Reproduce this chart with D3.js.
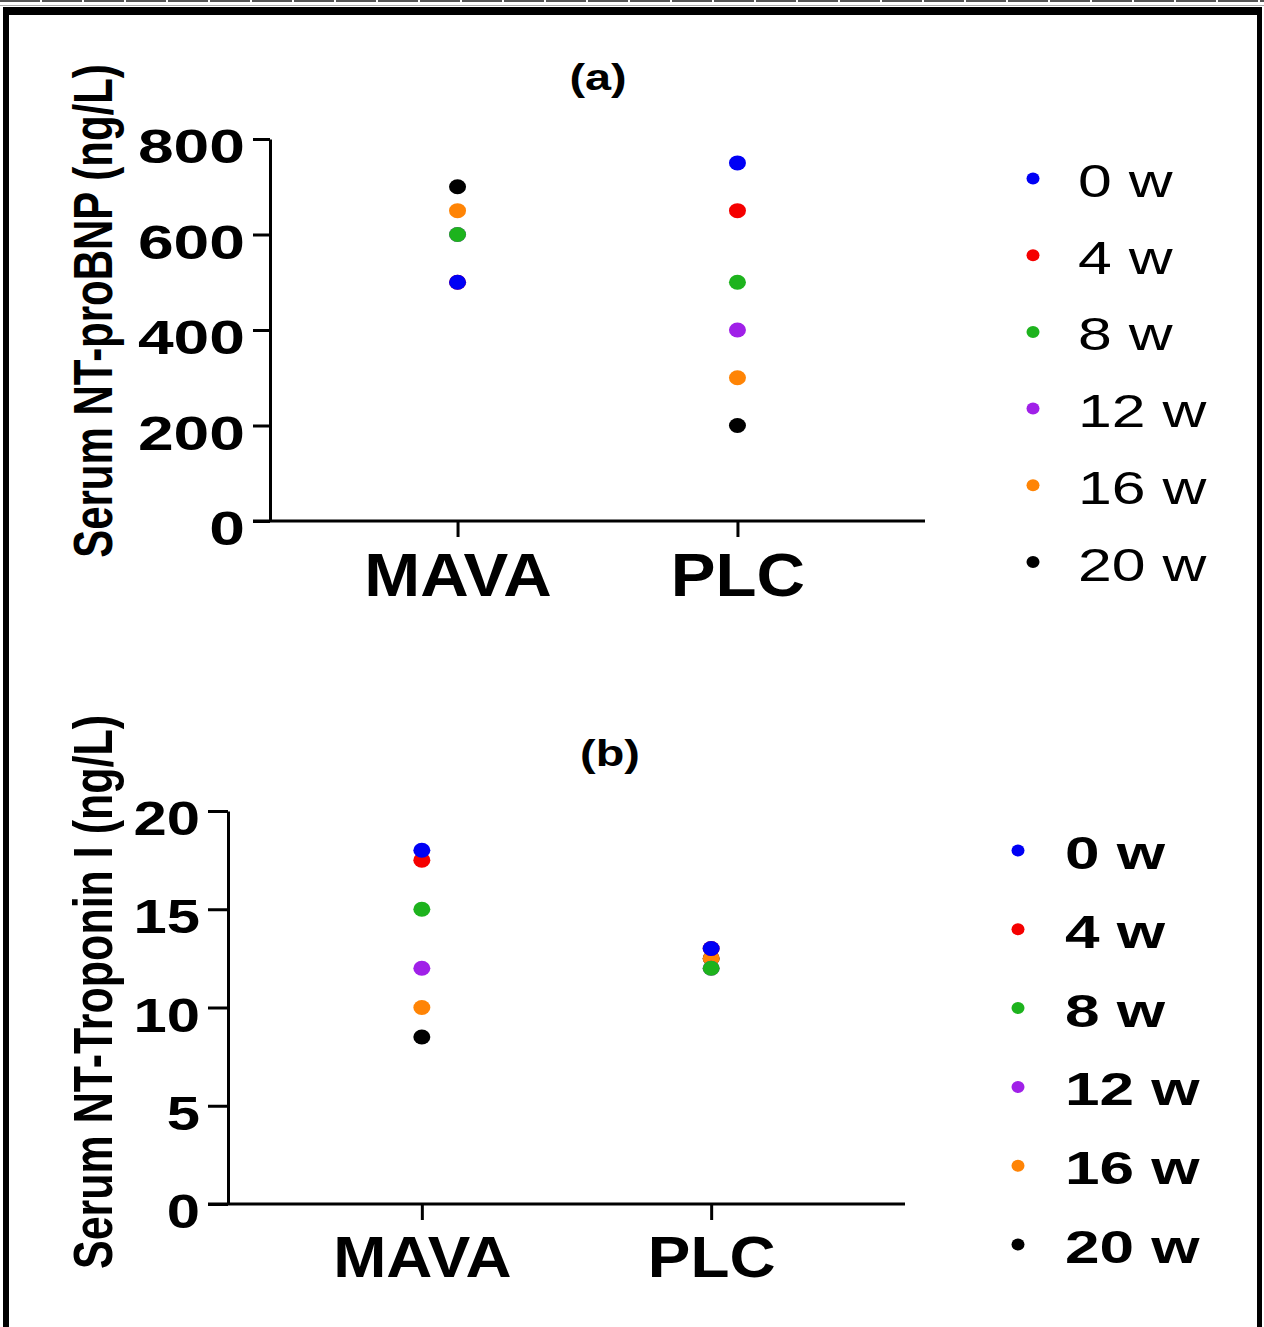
<!DOCTYPE html>
<html>
<head>
<meta charset="utf-8">
<script src="https://cdn.jsdelivr.net/npm/d3@7"></script>
<style>
  body { margin: 0; background: #fff; }
  svg { display: block; font-family: "Liberation Sans", Arial, sans-serif; }
</style>
</head>
<body>
<svg width="1264" height="1327"></svg>
<script>
// data
const groups = ["MAVA", "PLC"];
const weeks = ["0 w", "4 w", "8 w", "12 w", "16 w", "20 w"];
const bnpMAVA = [500, 500, 600, 600, 650, 700];
const bnpPLC = [750, 650, 500, 400, 300, 200];
const tropMAVA = [18, 17.5, 15, 12, 10, 8.5];
const tropPLC = [13, 13, 12, 12, 12.5, 12.5];
const bnpTicks = [0, 200, 400, 600, 800];
const tropTicks = [0, 5, 10, 15, 20];

const colors = ["#0000f5", "#f50000", "#1db31d", "#a020e8", "#ff8405", "#000000"];

let svg = d3.select("svg");

// frame round the figure
svg.append("line").attr("x1", 0).attr("x2", 1264).attr("y1", 1).attr("y2", 1)
    .attr("stroke", "#555").attr("stroke-width", 2).attr("stroke-dasharray", "40,2");
svg.append("line").attr("x1", 0).attr("x2", 1264).attr("y1", 5.5).attr("y2", 5.5)
    .attr("stroke", "#aaa").attr("stroke-width", 1);
svg.append("rect").attr("x", 3).attr("y", 7).attr("width", 1259).attr("height", 8).attr("fill", "#000");
svg.append("rect").attr("x", 3).attr("y", 7).attr("width", 6).attr("height", 1320).attr("fill", "#000");
svg.append("rect").attr("x", 1257).attr("y", 7).attr("width", 5).attr("height", 1320).attr("fill", "#000");

function drawPanel(p) {
    let yScale = d3.scaleLinear().domain(p.domain).range([p.y0, p.y1]);
    let xScale = d3.scalePoint().domain(groups).range([p.x0, p.x1]).padding(0.67);

    // y axis
    let ya = svg.append("g")
        .attr("transform", "translate(" + p.x0 + ",0)")
        .call(d3.axisLeft(yScale).tickValues(p.ticks).tickSize(p.tickY).tickSizeOuter(0).tickPadding(0));
    ya.select(".domain").attr("stroke-width", 3);
    ya.selectAll(".tick line").attr("stroke-width", 3);
    ya.selectAll(".tick text")
        .attr("x", 0).attr("dy", "0.48em")
        .attr("font-size", 49).attr("font-weight", "bold")
        .attr("font-family", "'Liberation Sans', Arial, sans-serif")
        .attr("fill", "#000")
        .attr("transform", "translate(" + (-p.tickY - 8) + ",0) scale(" + p.tickStretch + ",1)");

    // x axis
    let xa = svg.append("g")
        .attr("transform", "translate(0," + p.y0 + ")")
        .call(d3.axisBottom(xScale).tickSize(16).tickSizeOuter(0).tickPadding(0));
    xa.select(".domain").attr("d", "M" + (p.x0 - p.tickY) + ",0H" + p.x1).attr("stroke-width", 3);
    xa.selectAll(".tick line").attr("stroke-width", 3);
    xa.selectAll(".tick text")
        .attr("y", 0).attr("dy", 0)
        .attr("font-size", p.xFont).attr("font-weight", "bold")
        .attr("font-family", "'Liberation Sans', Arial, sans-serif")
        .attr("fill", "#000")
        .attr("transform", "translate(0," + (p.xBase - p.y0) + ") scale(1.1,1)");

    // y title
    svg.append("text")
        .attr("transform", "translate(" + p.titleX + "," + p.titleY + ") rotate(-90) scale(1,1.3)")
        .attr("text-anchor", "middle")
        .attr("font-size", p.titleFont).attr("font-weight", "bold")
        .text(p.yTitle);

    // panel label
    svg.append("text")
        .attr("transform", "translate(" + p.labelX + "," + p.labelY + ") scale(1.3,1)")
        .attr("text-anchor", "middle")
        .attr("font-size", 36).attr("font-weight", "bold")
        .text(p.label);

    // points, last week drawn first
    let pts = [];
    for (let i = weeks.length - 1; i >= 0; i--) {
        pts.push({g: "MAVA", v: p.mava[i], c: colors[i]});
        pts.push({g: "PLC", v: p.plc[i], c: colors[i]});
    }
    svg.append("g").selectAll("ellipse").data(pts).enter().append("ellipse")
        .attr("cx", d => xScale(d.g))
        .attr("cy", d => yScale(d.v))
        .attr("rx", 8.5).attr("ry", 7.5)
        .attr("fill", d => d.c);

    // legend
    let lg = svg.append("g");
    weeks.forEach(function (w, i) {
        let y = p.legY + i * p.legStep;
        lg.append("ellipse").attr("cx", p.legX).attr("cy", y)
            .attr("rx", 6.5).attr("ry", 6).attr("fill", colors[i]);
        lg.append("text")
            .attr("transform", "translate(" + (p.legX + p.legGap) + "," + (y + 18.5) + ") scale(" + p.legStretch + ",1)")
            .attr("font-size", 46).attr("font-weight", p.legWeight)
            .text(w);
    });
}

drawPanel({
    domain: [0, 800], ticks: bnpTicks, mava: bnpMAVA, plc: bnpPLC,
    x0: 270, x1: 925, y0: 521, y1: 139, tickY: 17, tickStretch: 1.31,
    xFont: 61, xBase: 596,
    yTitle: "Serum NT-proBNP (ng/L)", titleX: 112, titleY: 311, titleFont: 42,
    label: "(a)", labelX: 598, labelY: 90,
    legX: 1033, legY: 178.5, legStep: 76.7, legGap: 45, legStretch: 1.32, legWeight: "normal"
});

drawPanel({
    domain: [0, 20], ticks: tropTicks, mava: tropMAVA, plc: tropPLC,
    x0: 228, x1: 905, y0: 1204, y1: 811, tickY: 20, tickStretch: 1.22,
    xFont: 58, xBase: 1277,
    yTitle: "Serum NT-Troponin I (ng/L)", titleX: 112, titleY: 992, titleFont: 43,
    label: "(b)", labelX: 610, labelY: 766,
    legX: 1018, legY: 850.5, legStep: 78.8, legGap: 47, legStretch: 1.35, legWeight: "bold"
});
</script>
</body>
</html>
